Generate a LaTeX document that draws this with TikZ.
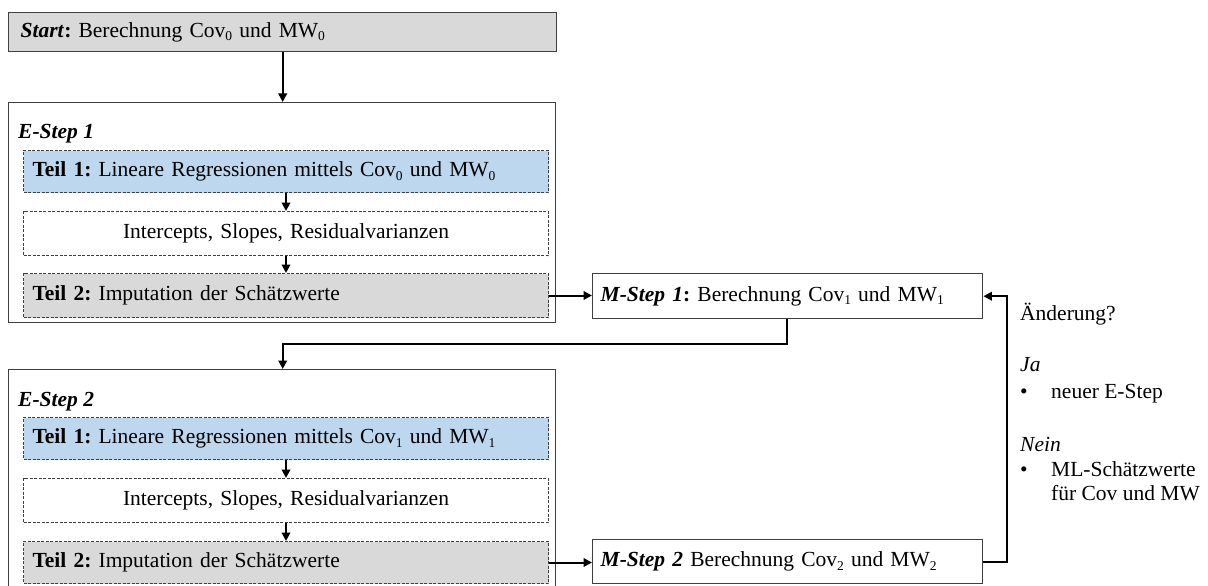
\documentclass[tikz,border=0pt]{standalone}
\usepackage{fontspec}
\setmainfont{Liberation Serif}
\usetikzlibrary{arrows.meta}

\definecolor{boxgray}{HTML}{D9D9D9}
\definecolor{boxblue}{HTML}{BDD7EE}
\definecolor{edgegray}{HTML}{3F3F3F}

% lowered index digit (Cov_0, MW_1, ...)
\newcommand{\idx}[1]{\raisebox{-0.35ex}{\fontsize{13.5}{13.5}\selectfont #1}}
\newcommand{\bi}[1]{\textbf{\textit{#1}}}
\frenchspacing

\begin{document}
\begin{tikzpicture}[x=1pt,y=-1pt,
  every node/.style={font=\fontsize{21.5}{25}\selectfont, inner sep=0pt},
  solidbox/.style={draw=edgegray, line width=1.4pt, anchor=north west},
  dashbox/.style={draw=edgegray, line width=1pt, dash pattern=on 3pt off 1.5pt, anchor=north west},
  boxsize/.style n args={3}{minimum width=#1pt, minimum height=#2pt,
     text width=#1pt-2*#3pt, inner xsep=#3pt},
  arr/.style={line width=2pt, -{Triangle[length=8.5pt,width=8.5pt]}},
  sidetext/.style={anchor=base west}
]
\clip (0,0) rectangle (1208,586);
\useasboundingbox (0,0) rectangle (1208,586);

% start
\node[solidbox, fill=boxgray, boxsize={548}{39}{12}, align=left] (start) at (8,12)
  {\bi{Start}\textbf{:} Berechnung Cov\idx{0} und MW\idx{0}};

% first E-step
\node[solidbox, minimum width=547pt, minimum height=220pt] (e1) at (8,102) {};
\node[anchor=west] (e1lab) at (18,134) {\bi{E-Step 1}};
\node[dashbox, fill=boxblue, boxsize={525}{42}{9}, align=left] (t1a) at (23,150)
  {\textbf{Teil 1:} Lineare Regressionen mittels Cov\idx{0} und MW\idx{0}};
\node[dashbox, boxsize={525}{44}{9}, align=center] (ia) at (23,211)
  {Intercepts, Slopes, Residualvarianzen};
\node[dashbox, fill=boxgray, boxsize={525}{44}{9}, align=left] (t2a) at (23,273)
  {\textbf{Teil 2:} Imputation der Schätzwerte};

% first M-step
\node[solidbox, boxsize={390}{45}{8}, align=left] (m1) at (592,273)
  {\bi{M-Step 1}\textbf{:} Berechnung Cov\idx{1} und MW\idx{1}};

% second E-step
\node[solidbox, minimum width=547pt, minimum height=240pt] (e2) at (8,369) {};
\node[anchor=west] (e2lab) at (18,402) {\bi{E-Step 2}};
\node[dashbox, fill=boxblue, boxsize={525}{42}{9}, align=left] (t1b) at (23,417)
  {\textbf{Teil 1:} Lineare Regressionen mittels Cov\idx{1} und MW\idx{1}};
\node[dashbox, boxsize={525}{44}{9}, align=center] (ib) at (23,478)
  {Intercepts, Slopes, Residualvarianzen};
\node[dashbox, fill=boxgray, boxsize={525}{42}{9}, align=left] (t2b) at (23,541)
  {\textbf{Teil 2:} Imputation der Schätzwerte};

% second M-step
\node[solidbox, boxsize={390}{44}{8}, align=left] (m2) at (592,539)
  {\bi{M-Step 2} Berechnung Cov\idx{2} und MW\idx{2}};

% decision text
\node[sidetext] (q) at (1020,320) {Änderung?};
\node[sidetext] (ja) at (1020,371) {\textit{Ja}};
\node[sidetext] (b1) at (1020,398) {•};
\node[sidetext] (b1t) at (1051,398) {neuer E-Step};
\node[sidetext] (nein) at (1020,451) {\textit{Nein}};
\node[sidetext] (b2) at (1020,476) {•};
\node[sidetext] (b2t) at (1051,476) {ML-Schätzwerte};
\node[sidetext] (b2u) at (1051,500) {für Cov und MW};

% connectors
\coordinate (bend) at (787,344);
\coordinate (loop) at (1007,0);
\draw[arr] (start.south) -- (start.south |- e1.north);
\draw[arr] (t1a.south) -- (ia.north);
\draw[arr] (ia.south) -- (t2a.north);
\draw[arr] (t2a.east) -- (t2a.east -| m1.west);
\draw[arr] (m1.south -| bend) -- (bend) -- (bend -| start.south) -- (start.south |- e2.north);
\draw[arr] (t1b.south) -- (ib.north);
\draw[arr] (ib.south) -- (t2b.north);
\draw[arr] (t2b.east) -- (t2b.east -| m2.west);
\draw[arr] (m2.east) -- (m2.east -| loop) -- (m1.east -| loop) -- (m1.east);
\end{tikzpicture}
\end{document}
